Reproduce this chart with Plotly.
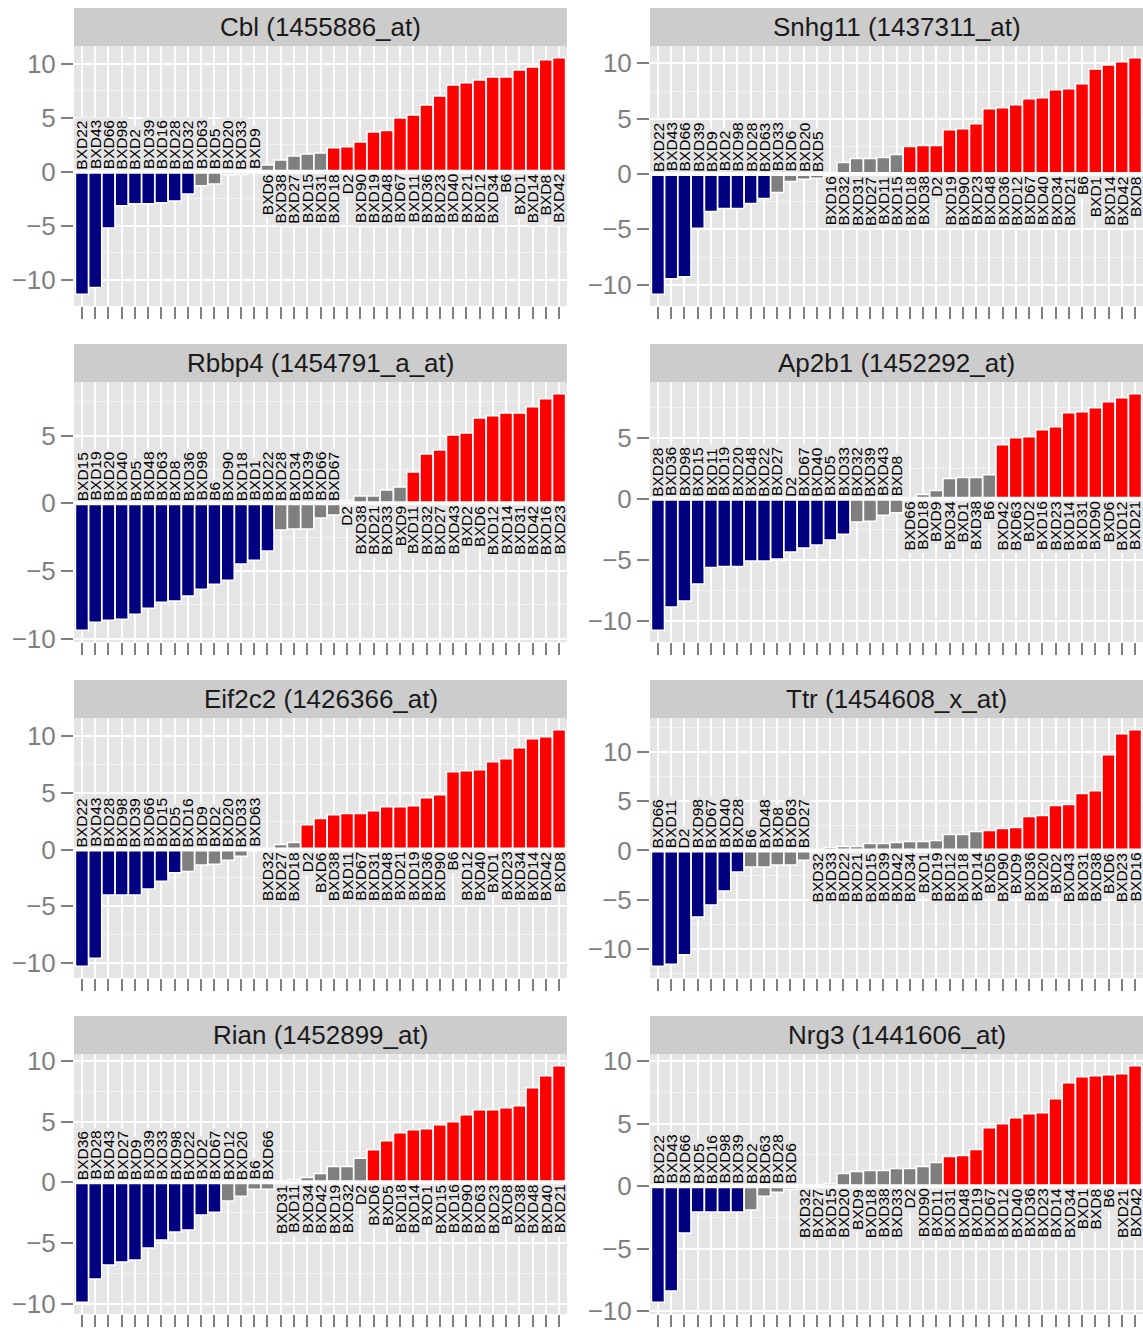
import plotly.graph_objects as go

# ---- strain order and expression scores for each probe set ----
cbl_strains = ["BXD22", "BXD43", "BXD66", "BXD98", "BXD2", "BXD39", "BXD16", "BXD28", "BXD32", "BXD63",
               "BXD5", "BXD20", "BXD33", "BXD9", "BXD6", "BXD38", "BXD27", "BXD15", "BXD31", "BXD18",
               "D2", "BXD90", "BXD19", "BXD48", "BXD67", "BXD11", "BXD36", "BXD23", "BXD40", "BXD21",
               "BXD12", "BXD34", "B6", "BXD1", "BXD14", "BXD8", "BXD42"]
cbl_values = [-11.36, -10.74, -5.23, -3.16, -2.97, -2.97, -2.88, -2.72, -2.07, -1.30,
              -1.15, -0.28, -0.25, -0.03, 0.62, 1.08, 1.46, 1.64, 1.73, 2.23,
              2.32, 2.76, 3.68, 3.81, 4.98, 5.26, 6.19, 7.03, 8.05, 8.24,
              8.51, 8.79, 8.79, 9.44, 9.72, 10.37, 10.56]

snhg11_strains = ["BXD22", "BXD43", "BXD66", "BXD39", "BXD9", "BXD2", "BXD98", "BXD28", "BXD63", "BXD33",
                  "BXD6", "BXD20", "BXD5", "BXD16", "BXD32", "BXD31", "BXD27", "BXD11", "BXD15", "BXD18",
                  "BXD38", "D2", "BXD19", "BXD90", "BXD23", "BXD48", "BXD36", "BXD12", "BXD67", "BXD40",
                  "BXD34", "BXD21", "B6", "BXD1", "BXD14", "BXD42", "BXD8"]
snhg11_values = [-10.86, -9.47, -9.29, -4.91, -3.38, -3.11, -3.11, -2.66, -2.21, -1.67,
                 -0.68, -0.47, -0.38, 0.10, 1.04, 1.40, 1.40, 1.49, 1.76, 2.48,
                 2.57, 2.57, 4.01, 4.10, 4.55, 5.90, 5.99, 6.26, 6.80, 6.89,
                 7.61, 7.70, 8.15, 9.50, 9.86, 10.14, 10.50]

rbbp4_strains = ["BXD15", "BXD19", "BXD20", "BXD40", "BXD5", "BXD48", "BXD63", "BXD8", "BXD36", "BXD98",
                 "B6", "BXD90", "BXD18", "BXD1", "BXD22", "BXD28", "BXD34", "BXD39", "BXD66", "BXD67",
                 "D2", "BXD38", "BXD21", "BXD33", "BXD9", "BXD11", "BXD32", "BXD27", "BXD43", "BXD2",
                 "BXD6", "BXD12", "BXD14", "BXD31", "BXD42", "BXD16", "BXD23"]
rbbp4_values = [-9.38, -8.79, -8.64, -8.57, -8.20, -7.75, -7.31, -7.23, -6.86, -6.35,
                -5.98, -5.68, -4.49, -4.20, -3.53, -1.98, -1.90, -1.90, -1.09, -0.86,
                0.20, 0.54, 0.54, 0.99, 1.21, 2.32, 3.65, 3.95, 5.06, 5.21,
                6.32, 6.47, 6.69, 6.69, 7.14, 7.73, 8.10]

ap2b1_strains = ["BXD28", "BXD36", "BXD98", "BXD15", "BXD11", "BXD19", "BXD20", "BXD48", "BXD22", "BXD27",
                 "D2", "BXD67", "BXD40", "BXD5", "BXD33", "BXD32", "BXD39", "BXD43", "BXD8", "BXD66",
                 "BXD18", "BXD9", "BXD34", "BXD1", "BXD38", "B6", "BXD42", "BXD63", "BXD2", "BXD16",
                 "BXD23", "BXD14", "BXD31", "BXD90", "BXD6", "BXD12", "BXD21"]
ap2b1_values = [-10.79, -8.88, -8.39, -6.99, -5.63, -5.55, -5.55, -5.11, -5.11, -4.95,
                -4.37, -4.04, -3.80, -3.39, -2.90, -1.91, -1.83, -1.34, -1.15, 0.05,
                0.36, 0.68, 1.67, 1.75, 1.75, 1.99, 4.45, 5.03, 5.11, 5.68,
                5.93, 7.08, 7.16, 7.49, 7.98, 8.31, 8.63]

eif2c2_strains = ["BXD22", "BXD43", "BXD28", "BXD98", "BXD39", "BXD66", "BXD15", "BXD5", "BXD16", "BXD9",
                  "BXD2", "BXD20", "BXD33", "BXD63", "BXD32", "BXD27", "BXD18", "D2", "BXD6", "BXD38",
                  "BXD11", "BXD67", "BXD31", "BXD48", "BXD21", "BXD19", "BXD36", "BXD90", "B6", "BXD12",
                  "BXD40", "BXD1", "BXD23", "BXD34", "BXD14", "BXD42", "BXD8"]
eif2c2_values = [-10.26, -9.56, -4.01, -4.01, -4.01, -3.48, -2.78, -2.05, -1.93, -1.37,
                 -1.29, -0.94, -0.58, -0.05, 0.05, 0.44, 0.61, 2.19, 2.72, 3.07,
                 3.16, 3.16, 3.42, 3.77, 3.77, 3.86, 4.56, 4.82, 6.84, 6.93,
                 7.02, 7.72, 7.98, 8.95, 9.74, 9.91, 10.53]

ttr_strains = ["BXD66", "BXD11", "D2", "BXD98", "BXD67", "BXD40", "BXD28", "B6", "BXD48", "BXD8",
               "BXD63", "BXD27", "BXD32", "BXD33", "BXD22", "BXD21", "BXD15", "BXD39", "BXD42", "BXD34",
               "BXD1", "BXD19", "BXD12", "BXD18", "BXD14", "BXD5", "BXD90", "BXD9", "BXD36", "BXD20",
               "BXD2", "BXD43", "BXD31", "BXD38", "BXD6", "BXD23", "BXD16"]
ttr_values = [-11.72, -11.52, -10.57, -6.73, -5.52, -4.11, -2.19, -1.68, -1.68, -1.48,
              -1.48, -0.98, 0.03, 0.30, 0.40, 0.40, 0.71, 0.71, 0.81, 0.91,
              0.91, 1.01, 1.62, 1.62, 1.92, 2.02, 2.22, 2.32, 3.43, 3.54,
              4.55, 4.65, 5.76, 6.06, 9.70, 11.82, 12.22]

rian_strains = ["BXD36", "BXD28", "BXD43", "BXD27", "BXD9", "BXD39", "BXD33", "BXD98", "BXD22", "BXD2",
                "BXD67", "BXD12", "BXD20", "B6", "BXD66", "BXD31", "BXD11", "BXD34", "BXD42", "BXD19",
                "BXD32", "D2", "BXD6", "BXD5", "BXD18", "BXD14", "BXD1", "BXD15", "BXD16", "BXD90",
                "BXD63", "BXD23", "BXD8", "BXD38", "BXD48", "BXD40", "BXD21"]
rian_values = [-9.89, -7.97, -6.82, -6.58, -6.41, -5.42, -4.77, -4.11, -3.95, -2.71,
               -2.47, -1.56, -1.15, -0.58, -0.58, 0.03, 0.22, 0.38, 0.71, 1.29,
               1.29, 1.97, 2.68, 3.42, 4.08, 4.33, 4.41, 4.74, 4.99, 5.56,
               5.97, 5.97, 6.14, 6.30, 7.78, 8.77, 9.59]

nrg3_strains = ["BXD22", "BXD43", "BXD66", "BXD5", "BXD16", "BXD98", "BXD39", "BXD2", "BXD63", "BXD28",
                "BXD6", "BXD32", "BXD27", "BXD15", "BXD20", "BXD9", "BXD18", "BXD38", "BXD33", "D2",
                "BXD90", "BXD11", "BXD31", "BXD48", "BXD19", "BXD67", "BXD12", "BXD40", "BXD36", "BXD23",
                "BXD14", "BXD34", "BXD1", "BXD8", "B6", "BXD21", "BXD42"]
nrg3_values = [-9.28, -8.38, -3.75, -2.07, -2.07, -2.07, -2.07, -1.91, -0.80, -0.48,
               -0.24, 0.02, 0.03, 0.21, 1.01, 1.17, 1.25, 1.25, 1.41, 1.41,
               1.57, 1.89, 2.37, 2.45, 2.93, 4.68, 5.00, 5.48, 5.80, 5.88,
               6.99, 8.27, 8.75, 8.83, 8.91, 8.99, 9.63]

panel_titles = ["Cbl (1455886_at)", "Snhg11 (1437311_at)", "Rbbp4 (1454791_a_at)", "Ap2b1 (1452292_at)",
                "Eif2c2 (1426366_at)", "Ttr (1454608_x_at)", "Rian (1452899_at)", "Nrg3 (1441606_at)"]
panel_strains = [cbl_strains, snhg11_strains, rbbp4_strains, ap2b1_strains,
                 eif2c2_strains, ttr_strains, rian_strains, nrg3_strains]
panel_values = [cbl_values, snhg11_values, rbbp4_values, ap2b1_values,
                eif2c2_values, ttr_values, rian_values, nrg3_values]

CUTOFF = 2.0

# ---- styling ----
W, H = 1143, 1328
COL_X = [(74, 567), (650, 1143)]
ROW_TOP = [46, 382, 718, 1054]
PLOT_H = 260
STRIP_H = 38
FONT = "Liberation Sans, Arial, Helvetica, sans-serif"
PANEL_BG = "#E5E5E5"
STRIP_BG = "#CCCCCC"
AXIS_GREY = "#7F7F7F"
NAVY, RED, GREY = "#000080", "#FF0000", "#7F7F7F"
TICK_FS = 26
LABEL_FS = 15.5

# approximate Helvetica advance widths (em) for label length
CHAR_W = {"B": 0.667, "X": 0.667, "D": 0.722}


def text_px(s, size):
    return sum(CHAR_W.get(ch, 0.556) for ch in s) * size


fig = go.Figure()
shapes, annotations = [], []
layout = {}

for k, (title, strains, values) in enumerate(zip(panel_titles, panel_strains, panel_values)):
    row, col = divmod(k, 2)
    n = len(values)
    idx = "" if k == 0 else str(k + 1)
    xref, yref = "x" + idx, "y" + idx
    xs = list(range(n))
    colors = [NAVY if v <= -CUTOFF else RED if v >= CUTOFF else GREY for v in values]

    fig.add_trace(go.Bar(
        x=xs, y=values, xaxis=xref, yaxis=yref,
        marker=dict(color=colors, line=dict(color="white", width=1.5)),
        showlegend=False, hoverinfo="skip",
    ))

    lo, hi = min(0, min(values)), max(0, max(values))
    pad = 0.05 * (hi - lo)
    y0, y1 = lo - pad, hi + pad
    units_per_px = (y1 - y0) / PLOT_H

    left, right = COL_X[col]
    top = ROW_TOP[row]
    bottom = top + PLOT_H

    layout["xaxis" + idx] = dict(
        domain=[left / W, right / W], anchor=yref, range=[-0.6, n - 0.4],
        tickvals=xs, showticklabels=False, ticks="outside", ticklen=12, tickwidth=2,
        tickcolor=AXIS_GREY, showgrid=True, gridcolor="white", gridwidth=1.8,
        zeroline=False, showline=False, fixedrange=True, automargin=False,
    )
    layout["yaxis" + idx] = dict(
        domain=[1 - bottom / H, 1 - top / H], anchor=xref, range=[y0, y1],
        tick0=0, dtick=5, ticks="outside", ticklen=12, tickwidth=2, tickcolor=AXIS_GREY,
        tickfont=dict(size=TICK_FS, color=AXIS_GREY, family=FONT),
        showgrid=True, gridcolor="white", gridwidth=2, zeroline=False, showline=False,
        minor=dict(tick0=0, dtick=2.5, showgrid=True, gridcolor="#F2F2F2", gridwidth=1, ticks=""),
        fixedrange=True, automargin=False,
    )

    # facet strip with the probe-set title
    shapes.append(dict(type="rect", xref="paper", yref="paper",
                       x0=left / W, x1=right / W, y0=1 - top / H, y1=1 - (top - STRIP_H) / H,
                       fillcolor=STRIP_BG, line=dict(width=0), layer="below"))
    annotations.append(dict(xref="paper", yref="paper", x=(left + right) / 2 / W,
                            y=1 - (top - STRIP_H / 2) / H, text=title, showarrow=False,
                            xanchor="center", yanchor="middle",
                            font=dict(size=TICK_FS, color="#1A1A1A", family=FONT)))

    # strain names on the opposite side of zero, each on a panel-coloured patch
    for i, (name, v) in enumerate(zip(strains, values)):
        length = (text_px(name, LABEL_FS) + 5) * units_per_px
        sign = 1 if v < 0 else -1
        shapes.append(dict(type="rect", xref=xref, yref=yref, x0=i - 0.5, x1=i + 0.5,
                           y0=0, y1=sign * length, fillcolor=PANEL_BG, line=dict(width=0),
                           layer="between"))
        annotations.append(dict(xref=xref, yref=yref, x=i, y=0, text=name, textangle=-90,
                                showarrow=False, xanchor="center",
                                yanchor="bottom" if v < 0 else "top",
                                yshift=2.5 * sign, borderpad=0, borderwidth=0,
                                font=dict(size=LABEL_FS, color="#000000", family=FONT)))

    # white baseline across the panel
    shapes.append(dict(type="line", xref=xref + " domain", yref=yref, x0=0, x1=1, y0=0, y1=0,
                       line=dict(color="white", width=4), layer="above"))

fig.update_layout(
    width=W, height=H, margin=dict(l=0, r=0, t=0, b=0, autoexpand=False),
    paper_bgcolor="white", plot_bgcolor=PANEL_BG,
    bargap=0.02, shapes=shapes, annotations=annotations,
    font=dict(family=FONT), **layout,
)

fig.write_html("out.html")
